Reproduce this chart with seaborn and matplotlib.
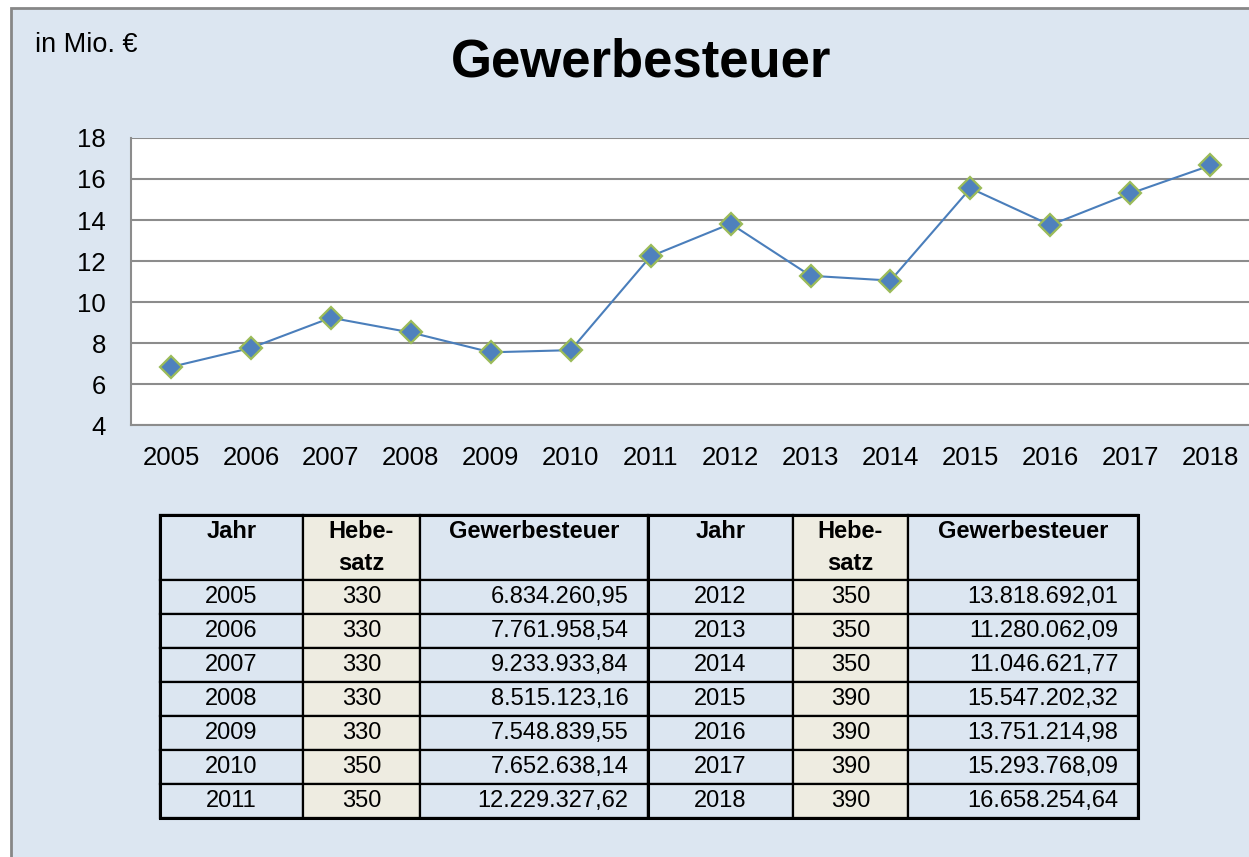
import matplotlib
matplotlib.use("Agg")

import matplotlib.pyplot as plt
import matplotlib.patches as mpatches
import numpy as np
import pandas as pd
import seaborn as sns

# -- data ------------------------------------------------------------
years = [2005, 2006, 2007, 2008, 2009, 2010, 2011,
         2012, 2013, 2014, 2015, 2016, 2017, 2018]
hebesatz = [330, 330, 330, 330, 330, 350, 350,
            350, 350, 350, 390, 390, 390, 390]
gewerbesteuer = [6834260.95, 7761958.54, 9233933.84, 8515123.16,
                 7548839.55, 7652638.14, 12229327.62, 13818692.01,
                 11280062.09, 11046621.77, 15547202.32, 13751214.98,
                 15293768.09, 16658254.64]
y_ticks = [4, 6, 8, 10, 12, 14, 16, 18]

BG = "#DCE6F1"
BEIGE = "#EEECE1"
GRID = "#8C8C8C"
LINE = "#4A7EBB"
EDGE = "#9BBB59"

sns.set_style("white")
plt.rcParams["font.family"] = ["Liberation Sans", "DejaVu Sans"]
plt.rcParams.update({"text.color": "black", "xtick.labelcolor": "black",
                     "ytick.labelcolor": "black"})


def de_format(v):
    s = f"{v:,.2f}"
    return s.replace(",", "X").replace(".", ",").replace("X", ".")


df = pd.DataFrame({"Jahr": years, "Mio": np.array(gewerbesteuer) / 1e6})

fig = plt.figure(figsize=(12.49, 8.57), dpi=100)
fig.patch.set_facecolor("white")
panel = mpatches.Rectangle((0.0085, -0.02), 1.1, 1.0107, transform=fig.transFigure,
                           facecolor=BG, edgecolor="#878787", linewidth=2, zorder=-10)
fig.patches.append(panel)

fig.text(0.513, 0.927, "Gewerbesteuer", ha="center", va="center",
         fontsize=38, fontweight="bold")
fig.text(0.028, 0.9475, "in Mio. €", ha="left", va="center", fontsize=19.5)

# -- line chart ------------------------------------------------------
ax = fig.add_axes([0.1049, 0.504, 0.8961, 0.335])
ax.set_facecolor("white")
sns.lineplot(data=df, x="Jahr", y="Mio", ax=ax, color=LINE, linewidth=1.5,
             marker="D", markersize=11, markerfacecolor="#4F81BD",
             markeredgecolor=EDGE, markeredgewidth=1.6)
ax.set_xlim(years[0] - 0.5, years[-1] + 0.5)
ax.set_ylim(y_ticks[0], y_ticks[-1])
ax.set_yticks(y_ticks)
ax.set_xticks(years)
ax.set_xticks(np.arange(years[0] - 0.5, years[-1] + 0.6, 1), minor=True)
ax.tick_params(axis="x", which="major", length=0, labelsize=18.5, pad=15)
ax.tick_params(axis="x", which="minor", length=7, width=1.5, color=GRID, direction="out")
ax.tick_params(axis="y", length=7, width=1.5, color=GRID, labelsize=18.5, pad=11)
ax.set_xlabel("")
ax.set_ylabel("")
ax.grid(axis="y", color=GRID, linewidth=1.5)
ax.grid(axis="x", visible=False)
ax.set_axisbelow(True)
for side in ["top", "right"]:
    ax.spines[side].set_visible(False)
for side in ["left", "bottom"]:
    ax.spines[side].set_color(GRID)
    ax.spines[side].set_linewidth(1.5)

# -- table -----------------------------------------------------------
half = 7
header = ["Jahr\n ", "Hebe-\nsatz", "Gewerbesteuer\n ",
          "Jahr\n ", "Hebe-\nsatz", "Gewerbesteuer\n "]
rows = []
for i in range(half):
    j = i + half
    rows.append([str(years[i]), str(hebesatz[i]), de_format(gewerbesteuer[i]),
                 str(years[j]), str(hebesatz[j]), de_format(gewerbesteuer[j])])
col_w = [143, 117, 228, 145, 115, 230]
col_bg = [BG, BEIGE, BG, BG, BEIGE, BG]

tax = fig.add_axes([0, 0, 1, 1])
tax.axis("off")
tbl = tax.table(cellText=[header] + rows,
                cellColours=[col_bg] * (half + 1),
                colWidths=[w / sum(col_w) for w in col_w],
                cellLoc="center",
                bbox=[160 / 1249, 39 / 857, 978 / 1249, 303 / 857])
tbl.auto_set_font_size(False)
tbl.set_fontsize(17)
for (r, c), cell in tbl.get_celld().items():
    cell.set_edgecolor("black")
    cell.set_linewidth(1.6)
    cell.get_text().set_color("black")
    if r == 0:
        cell.set_height(65)
        cell.get_text().set_fontweight("bold")
        cell.get_text().set_linespacing(1.45)
    else:
        cell.set_height(34)
        if c in (2, 5):
            cell.get_text().set_ha("right")
            cell.PAD = 0.085

# thicker outline and middle divider
tax.add_patch(mpatches.Rectangle((160 / 1249, 39 / 857), 978 / 1249, 303 / 857,
                                 transform=tax.transAxes, fill=False,
                                 edgecolor="black", linewidth=2.2, zorder=5))
tax.plot([648 / 1249, 648 / 1249], [39 / 857, 342 / 857], color="black",
         linewidth=2.2, transform=tax.transAxes, zorder=5)
tax.set_xlim(0, 1)
tax.set_ylim(0, 1)

fig.savefig("out.png", dpi=100)
